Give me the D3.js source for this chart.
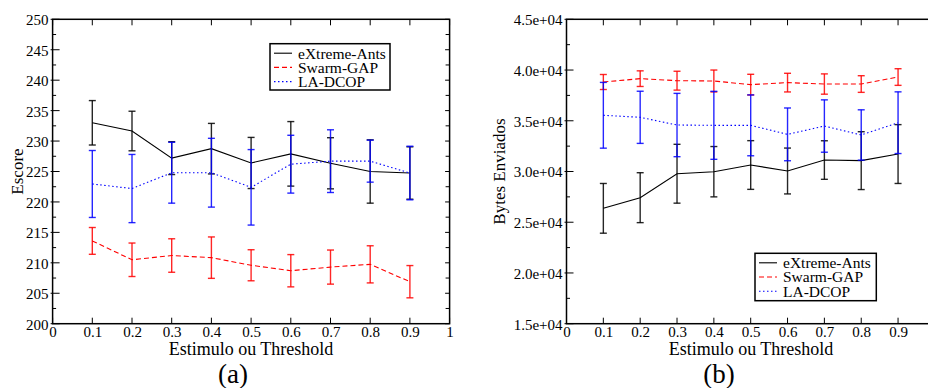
<!DOCTYPE html>
<html>
<head>
<meta charset="utf-8">
<script src="https://cdn.jsdelivr.net/npm/d3@7"></script>
<style>
html,body{margin:0;padding:0;background:#fff;}
svg{display:block;}
</style>
</head>
<body>
<svg id="chart" width="928" height="388"></svg>
<script>
// ---- data ----
const thresholds = [0.1, 0.2, 0.3, 0.4, 0.5, 0.6, 0.7, 0.8, 0.9];
const seriesNames = ["eXtreme-Ants", "Swarm-GAP", "LA-DCOP"];

// (a) Escore
const scoreAnts    = [233.0, 231.65, 227.2, 228.75, 226.4, 227.9, 226.35, 225.0, 224.75];
const scoreAntsErr = [3.65, 3.25, 2.7, 4.15, 4.2, 5.3, 4.2, 5.2, 4.3];
const scoreGap     = [213.6, 210.5, 211.2, 210.85, 209.6, 208.7, 209.3, 209.75, 206.9];
const scoreGapErr  = [2.2, 2.75, 2.75, 3.4, 2.55, 2.65, 2.8, 3.05, 2.65];
const scoreLa      = [222.95, 222.2, 224.8, 224.8, 222.4, 226.2, 226.7, 226.7, 224.75];
const scoreLaErr   = [5.5, 5.6, 5.0, 5.65, 6.2, 4.75, 5.15, 3.45, 4.4];

// (b) Bytes Enviados
const bytesAnts    = [26370, 27420, 29780, 29980, 30640, 30050, 31130, 31070, 31720];
const bytesAntsErr = [2450, 2460, 2900, 2480, 2400, 2260, 1900, 2850, 2900];
const bytesGap     = [38820, 39150, 38950, 38920, 38560, 38760, 38620, 38620, 39310];
const bytesGapErr  = [740, 770, 930, 1080, 1020, 920, 1000, 820, 820];
const bytesLa      = [35540, 35340, 34580, 34550, 34550, 33660, 34480, 33600, 34810];
const bytesLaErr   = [3240, 2570, 3120, 3350, 3000, 2600, 2580, 2480, 3040];

// tick labels
const xTickValues = [0, 0.1, 0.2, 0.3, 0.4, 0.5, 0.6, 0.7, 0.8, 0.9, 1];
const xTickLabelsA = ["0", "0.1", "0.2", "0.3", "0.4", "0.5", "0.6", "0.7", "0.8", "0.9", "1"];
const xTickLabelsB = ["0", "0.1", "0.2", "0.3", "0.4", "0.5", "0.6", "0.7", "0.8", "0.9", ""];
const scoreTicks = [200, 205, 210, 215, 220, 225, 230, 235, 240, 245, 250];
const scoreTickLabels = ["200", "205", "210", "215", "220", "225", "230", "235", "240", "245", "250"];
const bytesTicks = [15000, 20000, 25000, 30000, 35000, 40000, 45000];
const bytesTickLabels = ["1.5e+04", "2.0e+04", "2.5e+04", "3.0e+04", "3.5e+04", "4.0e+04", "4.5e+04"];

const colors = ["#000000", "#ff0000", "#0000ff"];
const dashes = [null, "5,3", "1.5,2.5"];
const FONT = "'Liberation Serif', 'Times New Roman', Times, 'DejaVu Serif', serif";

const svg = d3.select("#chart");

function panel(opts) {
  const g = svg.append("g");
  const x = d3.scaleLinear().domain([0, 1]).range([opts.x0, opts.x1]);
  const y = d3.scaleLinear().domain(opts.yDomain).range([opts.y1, opts.y0]);

  const majors = opts.yTicks;
  const minors = [];
  for (let i = 0; i < majors.length - 1; i++) minors.push((majors[i] + majors[i + 1]) / 2);

  // left axis labels
  const left = d3.axisLeft(y).tickValues(majors).tickSize(0).tickPadding(4)
    .tickFormat((d, i) => opts.yLabels[i]);
  const la = g.append("g").attr("transform", `translate(${opts.x0},0)`).call(left);
  la.select(".domain").remove();
  la.attr("font-family", null);
  la.selectAll("text").style("font-size", "15px").style("font-family", FONT).attr("dy", "0.36em");

  const tickG = g.append("g").attr("stroke", "#000").attr("stroke-width", 1);
  majors.forEach(v => {
    tickG.append("line").attr("x1", opts.x0 - 2).attr("x2", opts.x0 + 7).attr("y1", y(v)).attr("y2", y(v));
    tickG.append("line").attr("x1", opts.x1 - 4.5).attr("x2", opts.x1).attr("y1", y(v)).attr("y2", y(v));
  });
  minors.forEach(v => {
    tickG.append("line").attr("x1", opts.x0).attr("x2", opts.x0 + 3.5).attr("y1", y(v)).attr("y2", y(v));
    tickG.append("line").attr("x1", opts.x1 - 4).attr("x2", opts.x1).attr("y1", y(v)).attr("y2", y(v));
  });
  xTickValues.forEach(v => {
    tickG.append("line").attr("x1", x(v)).attr("x2", x(v)).attr("y1", opts.y1).attr("y2", opts.y1 - 6);
    tickG.append("line").attr("x1", x(v)).attr("x2", x(v)).attr("y1", opts.y0).attr("y2", opts.y0 + 6);
  });

  // bottom axis labels
  const bottom = d3.axisBottom(x).tickValues(xTickValues).tickSize(0).tickPadding(3)
    .tickFormat((d, i) => opts.xLabels[i]);
  const ba = g.append("g").attr("transform", `translate(0,${opts.y1})`).call(bottom);
  ba.select(".domain").remove();
  ba.attr("font-family", null);
  ba.selectAll("text").style("font-size", "15px").style("font-family", FONT);

  // frame
  g.append("rect").attr("x", opts.x0).attr("y", opts.y0)
    .attr("width", opts.x1 - opts.x0).attr("height", opts.y1 - opts.y0)
    .attr("fill", "none").attr("stroke", "#000").attr("stroke-width", 1.5);

  // series
  opts.series.forEach((s, k) => {
    const sg = g.append("g");
    const line = d3.line().x((d, i) => x(thresholds[i])).y(d => y(d));
    sg.append("path").datum(s.mean).attr("d", line)
      .attr("fill", "none").attr("stroke", colors[k]).attr("stroke-width", 1.1)
      .attr("stroke-dasharray", dashes[k]);
    const eg = sg.append("g").attr("stroke", colors[k]).attr("stroke-width", 1.4).attr("stroke-opacity", 0.85);
    s.mean.forEach((m, i) => {
      const cx = x(thresholds[i]);
      const yt = y(m + s.err[i]), yb = y(m - s.err[i]);
      eg.append("line").attr("x1", cx).attr("x2", cx).attr("y1", yt).attr("y2", yb);
      eg.append("line").attr("x1", cx - 3.5).attr("x2", cx + 3.5).attr("y1", yt).attr("y2", yt);
      eg.append("line").attr("x1", cx - 3.5).attr("x2", cx + 3.5).attr("y1", yb).attr("y2", yb);
    });
  });

  // legend
  const L = opts.legend;
  const lg = g.append("g");
  lg.append("rect").attr("x", L.x).attr("y", L.y).attr("width", L.w).attr("height", L.h)
    .attr("fill", "#fff").attr("stroke", "#000").attr("stroke-width", 1.5);
  seriesNames.forEach((n, k) => {
    const yy = L.y + 9.5 + k * 14.2;
    lg.append("line").attr("x1", L.x + 4).attr("x2", L.x + 22).attr("y1", yy).attr("y2", yy)
      .attr("stroke", colors[k]).attr("stroke-width", 1.1).attr("stroke-dasharray", dashes[k]);
    lg.append("text").attr("x", L.x + 28).attr("y", yy).attr("dy", "0.35em")
      .style("font-size", "15.5px").style("font-family", FONT).text(n);
  });

  // titles
  g.append("text").attr("x", opts.xTitleX).attr("y", 355)
    .attr("text-anchor", "middle").style("font-size", "18px").style("font-family", FONT)
    .text("Estimulo ou Threshold");
  g.append("text").attr("transform", `translate(${opts.yTitleX},${opts.yTitleY}) rotate(-90)`)
    .attr("text-anchor", "middle").style("font-size", "17px").style("font-family", FONT).text(opts.yTitle);
  g.append("text").attr("x", opts.capX).attr("y", 383).attr("text-anchor", "middle")
    .style("font-size", "27px").style("font-family", FONT).text(opts.caption);
}

panel({
  x0: 52.6, x1: 449.6, y0: 19.3, y1: 323.7,
  yDomain: [200, 250], yTicks: scoreTicks, yLabels: scoreTickLabels, xLabels: xTickLabelsA,
  series: [
    { mean: scoreAnts, err: scoreAntsErr },
    { mean: scoreGap, err: scoreGapErr },
    { mean: scoreLa, err: scoreLaErr }
  ],
  legend: { x: 270, y: 43.7, w: 120, h: 46.3 },
  xTitleX: 251, yTitle: "Escore", yTitleX: 23, yTitleY: 171.5, capX: 233, caption: "(a)"
});

panel({
  x0: 566.5, x1: 934.9, y0: 19.3, y1: 323.7,
  yDomain: [15000, 45000], yTicks: bytesTicks, yLabels: bytesTickLabels, xLabels: xTickLabelsB,
  series: [
    { mean: bytesAnts, err: bytesAntsErr },
    { mean: bytesGap, err: bytesGapErr },
    { mean: bytesLa, err: bytesLaErr }
  ],
  legend: { x: 755, y: 253.3, w: 121.3, h: 47.4 },
  xTitleX: 751, yTitle: "Bytes Enviados", yTitleX: 505, yTitleY: 171.5, capX: 719, caption: "(b)"
});
</script>
</body>
</html>
